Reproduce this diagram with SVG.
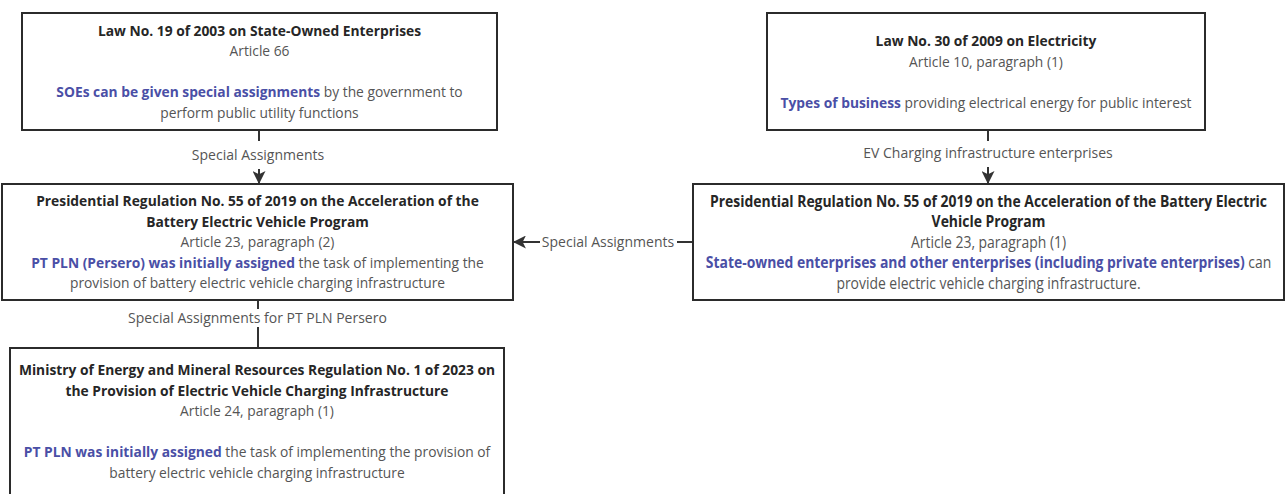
<svg xmlns="http://www.w3.org/2000/svg" width="1287" height="494" viewBox="0 0 1287 494">
<defs>
<style>
text{font-family:"Open Sans","Liberation Sans",sans-serif;font-size:13.8px;text-anchor:middle;fill:#555}
.t{font-weight:bold;fill:#262626}
.b{font-weight:bold;fill:#4a4fa6}
.lbl{font-size:14px;fill:#555}
.cond text{font-size:16px}
.box{fill:#fff;stroke:#2b2b2b;stroke-width:2}
.ln{stroke:#333;stroke-width:2;fill:none}
</style>
<marker id="ah" viewBox="0 0 12 12" refX="11" refY="6" markerWidth="13" markerHeight="13" markerUnits="userSpaceOnUse" orient="auto">
<path d="M0,0 L12,6 L0,12 L3,6 z" fill="#333"/>
</marker>
</defs>
<rect width="1287" height="494" fill="#fff"/>
<g id="connectors">
<path class="ln" d="M259,130 V141"/>
<path class="ln" d="M259,169 V183" marker-end="url(#ah)"/>
<text class="lbl" x="258" y="160">Special Assignments</text>
<path class="ln" d="M988,130 V141"/>
<path class="ln" d="M988,167 V183" marker-end="url(#ah)"/>
<text class="lbl" x="988" y="158">EV Charging infrastructure enterprises</text>
<path class="ln" d="M693,242 H677"/>
<path class="ln" d="M540,242 H514" marker-end="url(#ah)"/>
<text class="lbl" x="608" y="247">Special Assignments</text>
<path class="ln" d="M258,300 V309"/>
<path class="ln" d="M258,327 V348"/>
<text class="lbl" x="257.5" y="323">Special Assignments for PT PLN Persero</text>
</g>
<g id="law19">
<rect class="box" x="22" y="13" width="475" height="117"/>
<text class="t" x="259.5" y="35.5">Law No. 19 of 2003 on State-Owned Enterprises</text>
<text x="259.5" y="56">Article 66</text>
<text x="259.5" y="97"><tspan class="b">SOEs can be given special assignments</tspan> by the government to</text>
<text x="259.5" y="117.5">perform public utility functions</text>
</g>
<g id="law30">
<rect class="box" x="767" y="13" width="438" height="117"/>
<text class="t" x="986" y="46">Law No. 30 of 2009 on Electricity</text>
<text x="986" y="66.5">Article 10, paragraph (1)</text>
<text x="986" y="107.5"><tspan class="b">Types of business</tspan> providing electrical energy for public interest</text>
</g>
<g id="pr55a">
<rect class="box" x="2" y="184" width="511" height="116"/>
<text class="t" x="257.5" y="206">Presidential Regulation No. 55 of 2019 on the Acceleration of the</text>
<text class="t" x="257.5" y="226.5">Battery Electric Vehicle Program</text>
<text x="257.5" y="247">Article 23, paragraph (2)</text>
<text x="257.5" y="267.5"><tspan class="b">PT PLN (Persero) was initially assigned</tspan> the task of implementing the</text>
<text x="257.5" y="288">provision of battery electric vehicle charging infrastructure</text>
</g>
<g id="pr55b">
<rect class="box" x="693" y="184" width="591" height="116"/>
<g class="cond" transform="translate(988.5,0) scale(0.87,1)">
<text class="t" x="0" y="207">Presidential Regulation No. 55 of 2019 on the Acceleration of the Battery Electric</text>
<text class="t" x="0" y="227.5">Vehicle Program</text>
<text x="0" y="248">Article 23, paragraph (1)</text>
<text x="0" y="268.5"><tspan class="b">State-owned enterprises and other enterprises (including private enterprises)</tspan> can</text>
<text x="0" y="289">provide electric vehicle charging infrastructure.</text>
</g>
</g>
<g id="esdm">
<rect class="box" x="10" y="348" width="494" height="147"/>
<text class="t" x="257" y="375">Ministry of Energy and Mineral Resources Regulation No. 1 of 2023 on</text>
<text class="t" x="257" y="396">the Provision of Electric Vehicle Charging Infrastructure</text>
<text x="257" y="416">Article 24, paragraph (1)</text>
<text x="257" y="457"><tspan class="b">PT PLN was initially assigned</tspan> the task of implementing the provision of</text>
<text x="257" y="478">battery electric vehicle charging infrastructure</text>
</g>
</svg>
